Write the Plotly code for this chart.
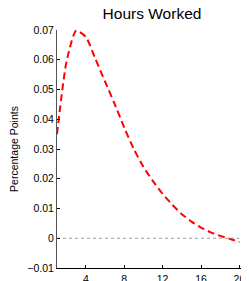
import plotly.graph_objects as go

# Data
quarters = list(range(1, 21))
hours_worked = [0.0350, 0.0595, 0.0698, 0.0677, 0.0603, 0.0527, 0.0452, 0.0372,
                0.0300, 0.0240, 0.0192, 0.0149, 0.0113, 0.0081, 0.0056, 0.0036,
                0.0020, 0.0008, -0.0002, -0.0013]
zero_x = [1, 20]
zero_y = [0, 0]
x_tickvals = [4, 8, 12, 16, 20]
x_ticktext = ["4", "8", "12", "16", "20"]
y_tickvals = [-0.01, 0, 0.01, 0.02, 0.03, 0.04, 0.05, 0.06, 0.07]
y_ticktext = ["\u22120.01", "0", "0.01", "0.02", "0.03", "0.04", "0.05", "0.06", "0.07"]

fig = go.Figure()
fig.add_trace(go.Scatter(x=zero_x, y=zero_y, mode="lines",
                         line=dict(color="#999999", width=1, dash="dot"),
                         hoverinfo="skip", showlegend=False))
fig.add_trace(go.Scatter(x=quarters, y=hours_worked, mode="lines",
                         line=dict(color="#ff0000", width=2, dash="7px,4px", shape="spline", smoothing=0.6),
                         showlegend=False))

font_family = "Liberation Sans, Arial, sans-serif"
# page body has an 8px margin, so the figure is 8px smaller than the window
fig.update_layout(
    width=241, height=273, autosize=False,
    margin=dict(l=49, r=2, t=22, b=13, pad=0),
    paper_bgcolor="white", plot_bgcolor="white",
    font=dict(family=font_family, size=11, color="#000000"),
    title=dict(text="Hours Worked", x=0.5, xref="paper", xanchor="center",
               y=1 - 6 / 273, yref="container", yanchor="middle",
               font=dict(size=15.5, family=font_family, color="#000000")),
    xaxis=dict(range=[1, 20.79], tickmode="array", tickvals=x_tickvals, ticktext=x_ticktext,
               automargin=False,
               showgrid=False, zeroline=False, showline=True, linecolor="#000000",
               linewidth=1, ticks="inside", ticklen=3, tickcolor="#000000",
               ticklabeloverflow="allow", ticklabelstandoff=1,
               tickfont=dict(size=10.5, family=font_family)),
    yaxis=dict(range=[-0.01, 0.07], tickvals=y_tickvals, ticktext=y_ticktext,
               automargin=False,
               showgrid=False, zeroline=False, showline=True, linecolor="#555555",
               linewidth=1, ticks="inside", ticklen=3, tickcolor="#000000",
               tickfont=dict(size=10.5, family=font_family),
               title=dict(text="Percentage Points",
                          font=dict(size=10.5, family=font_family))),
)

fig.write_html("out.html", config={"displayModeBar": False})
